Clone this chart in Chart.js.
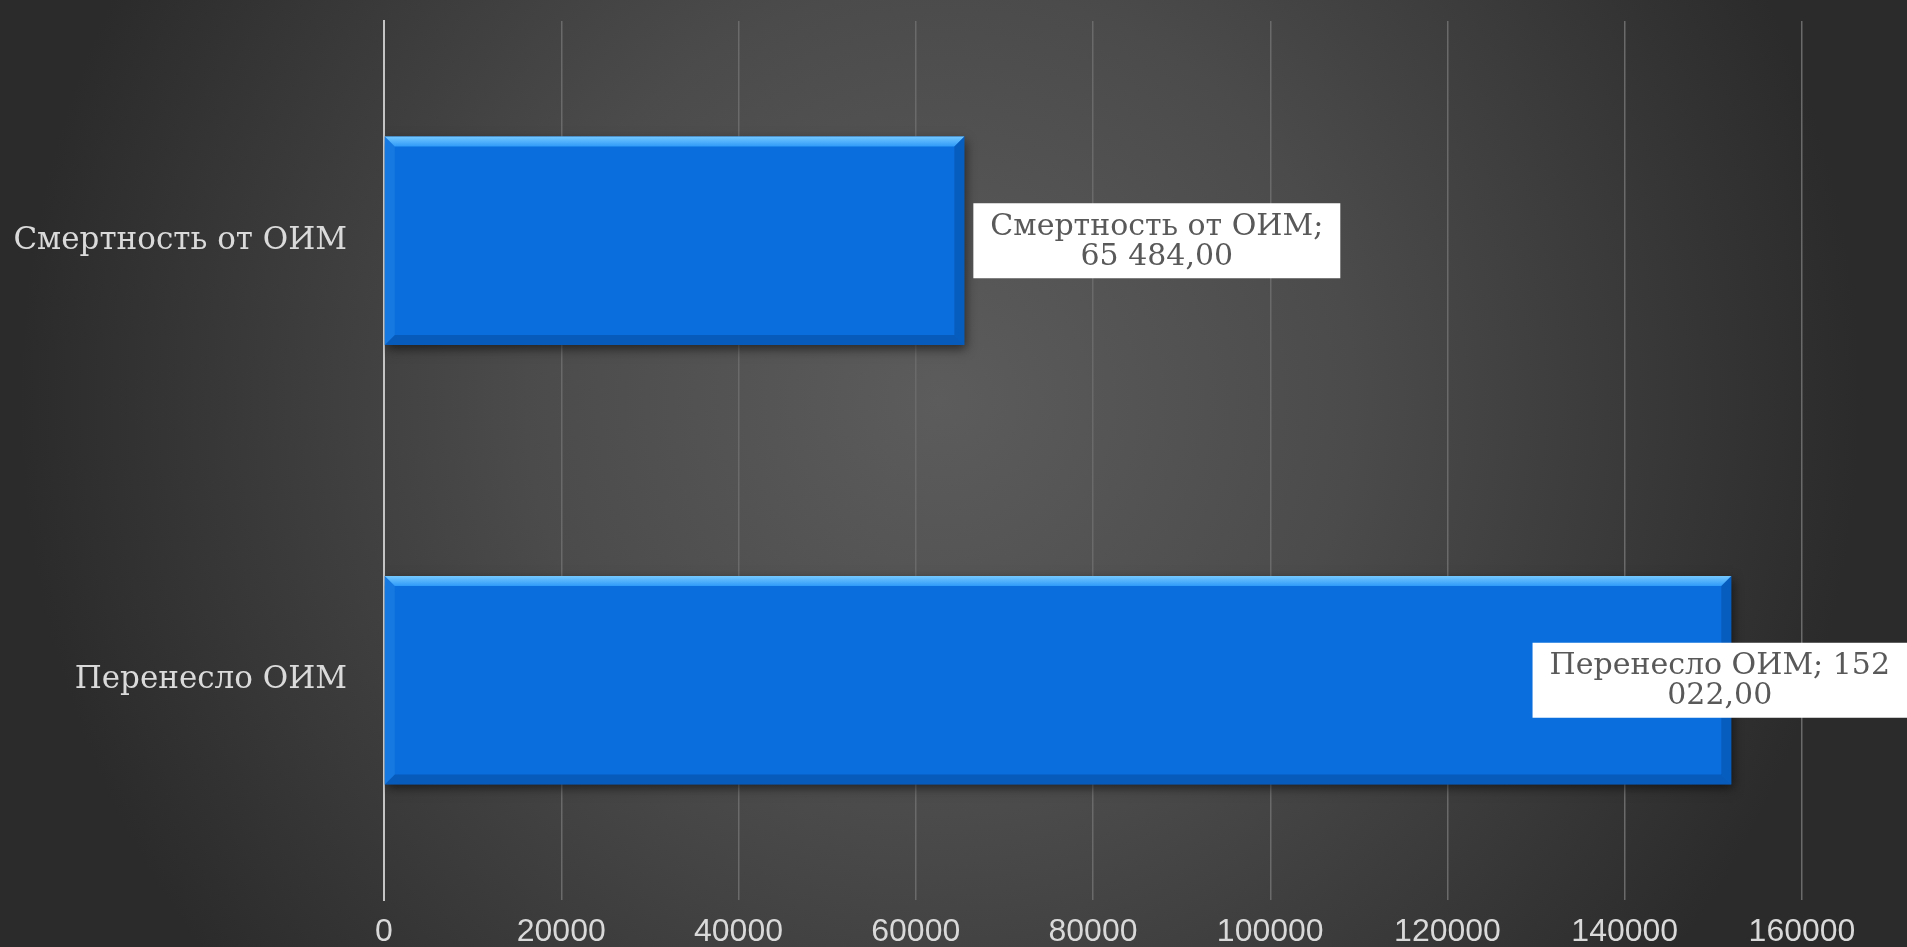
<!DOCTYPE html>
<html>
<head>
<meta charset="utf-8">
<script src="https://cdn.jsdelivr.net/npm/chart.js@4.4.1/dist/chart.umd.min.js"></script>
<style>
  html, body { margin: 0; padding: 0; background: #2d2d2d; }
  canvas { display: block; }
</style>
</head>
<body>
<canvas id="chartOne" width="1907" height="947"></canvas>
<script>
// data
const categories = ['Смертность от ОИМ', 'Перенесло ОИМ'];
const values = [65484, 152022];
const axisMin = 0;
const axisMax = 160000;
const axisStep = 20000;

const serif = "'DejaVu Serif', 'Liberation Serif', serif";
const sans = "'Liberation Sans', Arial, sans-serif";

// ru-RU style number: "65 484,00"
function fmt(v) {
  const parts = v.toFixed(2).split('.');
  const int = parts[0].replace(/\B(?=(\d{3})+(?!\d))/g, ' ');
  return int + ',' + parts[1];
}

// radial dark background
const bgPlugin = {
  id: 'bg',
  beforeDraw(chart) {
    const ctx = chart.ctx;
    const w = chart.width, h = chart.height;
    const g = ctx.createRadialGradient(940, 400, 0, 940, 400, 920);
    g.addColorStop(0, '#5c5c5c');
    g.addColorStop(0.45, '#4b4b4b');
    g.addColorStop(1, '#2b2b2b');
    ctx.save();
    ctx.fillStyle = g;
    ctx.fillRect(0, 0, w, h);
    ctx.restore();
  },
};

// drop shadow under the bars
const shadowPlugin = {
  id: 'barShadow',
  beforeDatasetsDraw(chart) {
    const ctx = chart.ctx;
    ctx.save();
    ctx.shadowColor = 'rgba(0,0,0,0.55)';
    ctx.shadowBlur = 10;
    ctx.shadowOffsetX = 2;
    ctx.shadowOffsetY = 4;
  },
  afterDatasetsDraw(chart) {
    chart.ctx.restore();
  },
};

// bevel edges on the bars
const bevelPlugin = {
  id: 'bevel',
  afterDatasetsDraw(chart) {
    const ctx = chart.ctx;
    const meta = chart.getDatasetMeta(0);
    const b = 10;
    meta.data.forEach((el) => {
      const p = el.getProps(['x', 'y', 'base', 'height'], true);
      const left = p.base, right = p.x;
      const top = p.y - p.height / 2, bottom = p.y + p.height / 2;
      ctx.save();
      // top
      let g = ctx.createLinearGradient(0, top, 0, top + b);
      g.addColorStop(0, '#74c8ff');
      g.addColorStop(1, '#2e9af8');
      ctx.fillStyle = g;
      ctx.beginPath();
      ctx.moveTo(left, top); ctx.lineTo(right, top);
      ctx.lineTo(right - b, top + b); ctx.lineTo(left + b, top + b);
      ctx.closePath(); ctx.fill();
      // right
      ctx.fillStyle = 'rgba(4,70,150,0.45)';
      ctx.beginPath();
      ctx.moveTo(right, top); ctx.lineTo(right, bottom);
      ctx.lineTo(right - b, bottom - b); ctx.lineTo(right - b, top + b);
      ctx.closePath(); ctx.fill();
      // bottom
      ctx.fillStyle = 'rgba(3,55,125,0.35)';
      ctx.beginPath();
      ctx.moveTo(left, bottom); ctx.lineTo(right, bottom);
      ctx.lineTo(right - b, bottom - b); ctx.lineTo(left + b, bottom - b);
      ctx.closePath(); ctx.fill();
      // left
      ctx.fillStyle = 'rgba(60,150,240,0.25)';
      ctx.beginPath();
      ctx.moveTo(left, top); ctx.lineTo(left, bottom);
      ctx.lineTo(left + b, bottom - b); ctx.lineTo(left + b, top + b);
      ctx.closePath(); ctx.fill();
      ctx.restore();
    });
  },
};

// white boxed data labels, "Category; value", wrapped like Excel
const labelPlugin = {
  id: 'boxLabels',
  afterDraw(chart) {
    const ctx = chart.ctx;
    const meta = chart.getDatasetMeta(0);
    const size = 30;
    const lineH = 30;
    const pad = 17;
    ctx.save();
    ctx.font = size + 'px ' + serif;
    meta.data.forEach((el, i) => {
      const p = el.getProps(['x', 'y'], true);
      const words = (categories[i] + '; ' + fmt(values[i])).split(' ');
      const maxW = size * 12;
      const lines = [];
      let cur = '';
      words.forEach((wd) => {
        const t = cur ? cur + ' ' + wd : wd;
        if (cur && ctx.measureText(t).width > maxW) {
          lines.push(cur);
          cur = wd;
        } else {
          cur = t;
        }
      });
      lines.push(cur);
      const textW = Math.max(...lines.map((l) => ctx.measureText(l).width));
      const boxW = textW + pad * 2;
      const boxH = lines.length * lineH + 15;
      const bx = Math.min(p.x + 9, chart.width - boxW);
      const by = p.y - boxH / 2;
      ctx.fillStyle = '#ffffff';
      ctx.fillRect(bx, by, boxW, boxH);
      ctx.fillStyle = '#595959';
      ctx.textAlign = 'center';
      ctx.textBaseline = 'middle';
      lines.forEach((l, k) => {
        ctx.fillText(l, bx + boxW / 2, p.y + 1 + (k - (lines.length - 1) / 2) * lineH);
      });
    });
    ctx.restore();
  },
};

const canvasOne = document.getElementById('chartOne');
const configOne = {
  type: 'bar',
  data: {
    labels: categories,
    datasets: [
      {
        label: 'ОИМ',
        data: values,
        backgroundColor: (c) => {
          const el = c.element;
          const area = c.chart.chartArea;
          if (!el || !area) return '#0a6fdc';
          const p = el.getProps(['y', 'height'], true);
          if (!p.height) return '#0a6fdc';
          const g = c.chart.ctx.createLinearGradient(0, p.y - p.height / 2, 0, p.y + p.height / 2);
          g.addColorStop(0, '#087cf3');
          g.addColorStop(0.5, '#066fe2');
          g.addColorStop(1, '#0559bd');
          return g;
        },
        borderWidth: 0,
        barPercentage: 0.474,
        categoryPercentage: 1,
      },
    ],
  },
  options: {
    indexAxis: 'y',
    responsive: false,
    animation: false,
    layout: { padding: { top: 21, right: 105, left: 0, bottom: 0 } },
    plugins: {
      legend: { display: false },
      tooltip: { enabled: false },
    },
    scales: {
      x: {
        min: axisMin,
        max: axisMax,
        ticks: {
          stepSize: axisStep,
          color: '#d9d9d9',
          font: { family: sans, size: 32 },
          padding: 13,
          maxRotation: 0,
          callback: (v) => String(v),
        },
        grid: { color: '#6a6a6a', lineWidth: 1.5, drawTicks: false },
        border: { display: false },
        afterFit(scale) { scale.height = 47; },
      },
      y: {
        ticks: {
          color: '#dadada',
          font: { family: serif, size: 31 },
          padding: 37,
        },
        grid: { display: false, drawTicks: false },
        border: { display: true, color: '#c4c4c4', width: 2 },
        afterFit(scale) {
          scale.width = 384;
          scale.paddingTop = 0;
          scale.paddingBottom = 0;
        },
      },
    },
  },
  plugins: [bgPlugin, shadowPlugin, bevelPlugin, labelPlugin],
};

const chartOne = new Chart(canvasOne, configOne);
</script>
</body>
</html>
